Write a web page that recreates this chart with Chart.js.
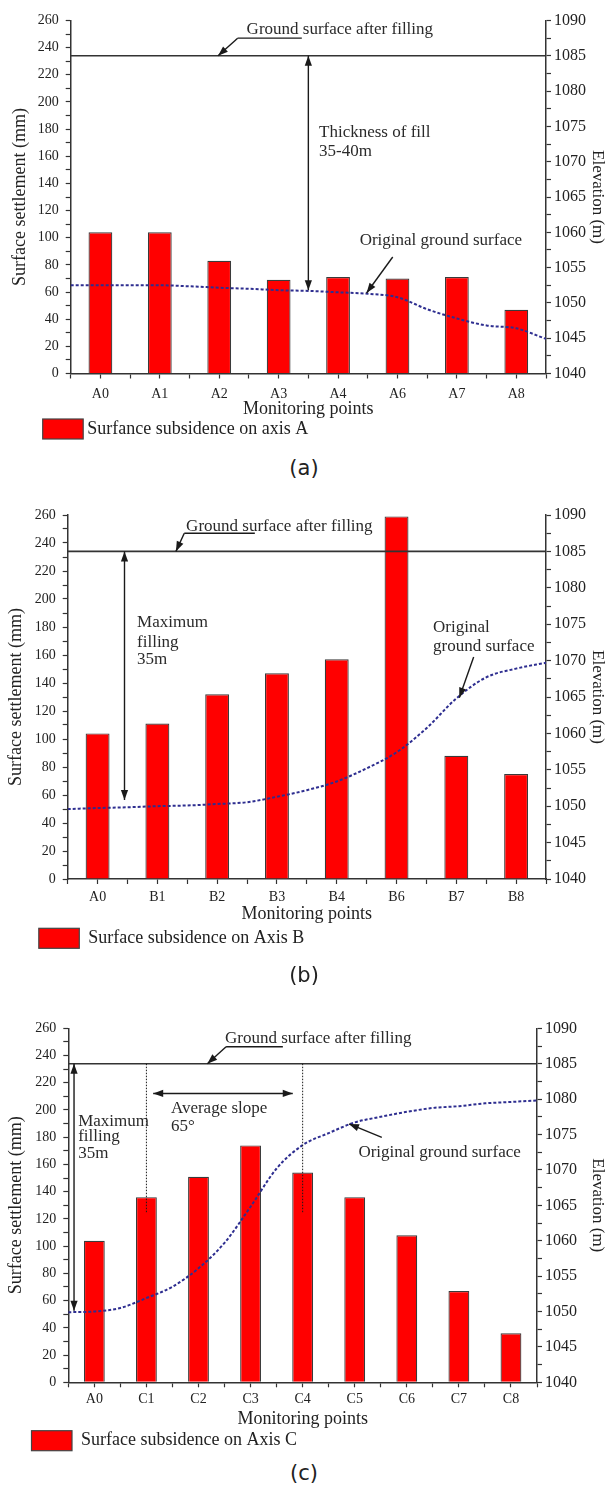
<!DOCTYPE html>
<html>
<head>
<meta charset="utf-8">
<script src="https://cdn.jsdelivr.net/npm/chart.js@4.4.0/dist/chart.umd.min.js"></script>
<style>
  html, body { margin: 0; padding: 0; background: #fff; }
  body { width: 608px; height: 1488px; position: relative; overflow: hidden; }
  .panel { position: absolute; left: 0; width: 608px; }
  .cap { position: absolute; left: 0; width: 608px; text-align: center; font: 21px "DejaVu Sans", sans-serif; color: #222; line-height: 24px; z-index: 2; }
</style>
</head>
<body>
<div class="panel" style="top:0px;height:450px"><canvas id="chartA" width="608" height="450"></canvas></div>
<div class="panel" style="top:480px;height:475px"><canvas id="chartB" width="608" height="475"></canvas></div>
<div class="panel" style="top:985px;height:475px"><canvas id="chartC" width="608" height="475"></canvas></div>
<div class="cap" style="top:456px">(a)</div>
<div class="cap" style="top:963px">(b)</div>
<div class="cap" style="top:1461px">(c)</div>

<script>
const categoriesA = ['A0', 'A1', 'A2', 'A3', 'A4', 'A6', 'A7', 'A8'];
const settlementA = [104, 104, 83, 69, 71, 70, 71, 47];

const categoriesB = ['A0', 'B1', 'B2', 'B3', 'B4', 'B6', 'B7', 'B8'];
const settlementB = [104, 111, 132, 147, 157, 259, 88, 75];

const categoriesC = ['A0', 'C1', 'C2', 'C3', 'C4', 'C5', 'C6', 'C7', 'C8'];
const settlementC = [104, 136, 151, 174, 154, 136, 108, 67, 36];

// original ground surface (elevation, m), read at every half point spacing
const surfacePos8 = [-0.5, 0, 0.5, 1, 1.5, 2, 2.5, 3, 3.5, 4, 4.5, 5, 5.5, 6, 6.5, 7, 7.5];
const surfacePos9 = [-0.5, 0, 0.5, 1, 1.5, 2, 2.5, 3, 3.5, 4, 4.5, 5, 5.5, 6, 6.5, 7, 7.5, 8, 8.5];
const elevationA = [1052.5, 1052.5, 1052.5, 1052.5, 1052.35, 1052.15, 1052.0, 1051.8, 1051.7, 1051.5, 1051.3, 1050.8, 1049.1, 1047.8, 1046.8, 1046.4, 1044.9];
const elevationB = [1049.6, 1049.75, 1049.85, 1050.0, 1050.1, 1050.3, 1050.55, 1051.3, 1052.2, 1053.4, 1055.2, 1057.4, 1060.7, 1064.8, 1067.7, 1068.9, 1069.7];
const elevationC = [1049.9, 1050.0, 1050.5, 1051.9, 1053.5, 1056.1, 1059.7, 1064.8, 1070.2, 1073.5, 1075.2, 1076.7, 1077.5, 1078.2, 1078.75, 1079.0, 1079.4, 1079.6, 1079.8];

// ground surface after filling (m)
const filledSurface = 1085;

const settlementTicks = { min: 0, max: 260, step: 10, labelEvery: 20 };
const elevationTicks = { min: 1040, max: 1090, step: 2.5, labelEvery: 5 };

Chart.defaults.font.family = '"Liberation Serif", "Times New Roman", serif';
Chart.defaults.color = '#222';

const notesA = [
  { t: 'text', x: 4.03, y: 1088.65, s: 'Ground surface after filling', align: 'center' },
  { t: 'line', x1: 2.31, y1: 1087.5, x2: 3.39, y2: 1087.5 },
  { t: 'arrow', x1: 2.31, y1: 1087.5, x2: 1.98, y2: 1085 },
  { t: 'arrow', x1: 3.5, y1: 1085, x2: 3.5, y2: 1051.8, both: true },
  { t: 'text', x: 3.68, y: 1074.2, s: 'Thickness of fill', align: 'left' },
  { t: 'text', x: 3.68, y: 1071.4, s: '35-40m', align: 'left' },
  { t: 'text', x: 5.73, y: 1058.8, s: 'Original ground surface', align: 'center' },
  { t: 'arrow', x1: 4.92, y1: 1056.5, x2: 4.48, y2: 1051.4 }
];

const notesB = [
  { t: 'text', x: 3.04, y: 1088.35, s: 'Ground surface after filling', align: 'center' },
  { t: 'line', x1: 1.45, y1: 1087.5, x2: 2.63, y2: 1087.5 },
  { t: 'arrow', x1: 1.45, y1: 1087.5, x2: 1.31, y2: 1085 },
  { t: 'arrow', x1: 0.45, y1: 1085, x2: 0.45, y2: 1050.85, both: true },
  { t: 'text', x: 0.66, y: 1075.2, s: 'Maximum', align: 'left' },
  { t: 'text', x: 0.66, y: 1072.55, s: 'filling', align: 'left' },
  { t: 'text', x: 0.66, y: 1070.1, s: '35m', align: 'left' },
  { t: 'text', x: 5.61, y: 1074.6, s: 'Original', align: 'left' },
  { t: 'text', x: 5.61, y: 1071.9, s: 'ground surface', align: 'left' },
  { t: 'arrow', x1: 6.29, y1: 1070.5, x2: 6.05, y2: 1064.9 }
];

const notesC = [
  { t: 'text', x: 4.3, y: 1088.5, s: 'Ground surface after filling', align: 'center' },
  { t: 'line', x1: 2.53, y1: 1087.4, x2: 3.62, y2: 1087.4 },
  { t: 'arrow', x1: 2.53, y1: 1087.4, x2: 2.17, y2: 1085 },
  { t: 'dots', x1: 1, y1: 1085, x2: 1, y2: 1063.9 },
  { t: 'dots', x1: 4, y1: 1085, x2: 4, y2: 1063.9 },
  { t: 'arrow', x1: 1.13, y1: 1080.8, x2: 3.81, y2: 1080.8, both: true },
  { t: 'text', x: 1.47, y: 1078.7, s: 'Average slope', align: 'left' },
  { t: 'text', x: 1.47, y: 1076.1, s: '65°', align: 'left' },
  { t: 'arrow', x1: -0.39, y1: 1085, x2: -0.39, y2: 1050.1, both: true },
  { t: 'text', x: -0.31, y: 1076.8, s: 'Maximum', align: 'left' },
  { t: 'text', x: -0.31, y: 1074.7, s: 'filling', align: 'left' },
  { t: 'text', x: -0.31, y: 1072.3, s: '35m', align: 'left' },
  { t: 'text', x: 6.63, y: 1072.4, s: 'Original ground surface', align: 'center' },
  { t: 'arrow', x1: 5.52, y1: 1074.6, x2: 4.89, y2: 1076.5 }
];

function arrowHead(ctx, x0, y0, x1, y1) {
  const a = Math.atan2(y1 - y0, x1 - x0);
  const len = 10, half = 3.6;
  ctx.beginPath();
  ctx.moveTo(x1, y1);
  ctx.lineTo(x1 - len * Math.cos(a) + half * Math.sin(a), y1 - len * Math.sin(a) - half * Math.cos(a));
  ctx.lineTo(x1 - len * Math.cos(a) - half * Math.sin(a), y1 - len * Math.sin(a) + half * Math.cos(a));
  ctx.closePath();
  ctx.fill();
}

function notesPlugin(notes, lay) {
  return {
    id: 'notes',
    afterDraw(chart) {
      const { ctx, chartArea } = chart;
      const xs = chart.scales.x, ys = chart.scales.y2;
      const px = v => xs.getPixelForValue(v);
      const py = v => ys.getPixelForValue(v);
      ctx.save();
      ctx.strokeStyle = '#1a1a1a';
      ctx.fillStyle = '#1a1a1a';
      ctx.lineWidth = 1.4;
      notes.forEach(n => {
        if (n.t === 'text') {
          ctx.fillStyle = '#2a2a2a';
          ctx.font = '17px "Liberation Serif", serif';
          ctx.textAlign = n.align;
          ctx.textBaseline = 'middle';
          ctx.fillText(n.s, px(n.x), py(n.y));
          ctx.fillStyle = '#1a1a1a';
          return;
        }
        const x0 = px(n.x1), y0 = py(n.y1), x1 = px(n.x2), y1 = py(n.y2);
        ctx.beginPath();
        if (n.t === 'dots') {
          ctx.setLineDash([1.5, 1.5]);
          ctx.lineWidth = 1;
        }
        ctx.moveTo(x0, y0);
        ctx.lineTo(x1, y1);
        ctx.stroke();
        ctx.setLineDash([]);
        ctx.lineWidth = 1.4;
        if (n.t === 'arrow') {
          arrowHead(ctx, x0, y0, x1, y1);
          if (n.both) arrowHead(ctx, x1, y1, x0, y0);
        }
      });

      // legend
      const label = chart.data.datasets[2].label;
      const bx = lay.legendX, by = chartArea.bottom + lay.legendDy;
      ctx.fillStyle = '#ff0000';
      ctx.fillRect(bx, by, 40.5, 20);
      ctx.strokeStyle = '#444';
      ctx.lineWidth = 1.2;
      ctx.strokeRect(bx, by, 40.5, 20);
      ctx.fillStyle = '#222';
      ctx.font = '18px "Liberation Serif", serif';
      ctx.textAlign = 'left';
      ctx.textBaseline = 'middle';
      ctx.fillText(label, bx + 40.5 + lay.legendGap, by + 10);
      ctx.restore();
    }
  };
}

function drawPanel(id, categories, settlement, surfacePos, elevation, label, notes, lay) {
  const n = categories.length;
  const axisLine = { display: true, color: '#333', width: 1.5 };
  const tickGrid = { display: true, drawOnChartArea: false, drawTicks: true, tickLength: 5, tickColor: '#333', tickWidth: 1.2 };

  new Chart(document.getElementById(id), {
    type: 'bar',
    data: {
      datasets: [
        {
          type: 'line',
          data: [{ x: -0.5, y: filledSurface }, { x: n - 0.5, y: filledSurface }],
          yAxisID: 'y2',
          borderColor: '#333',
          borderWidth: 1.6,
          pointRadius: 0,
          order: 1
        },
        {
          type: 'line',
          data: surfacePos.map((p, i) => ({ x: p, y: elevation[i] })),
          yAxisID: 'y2',
          borderColor: '#2e2e90',
          borderWidth: 2,
          borderDash: [3, 2],
          pointRadius: 0,
          cubicInterpolationMode: 'monotone',
          order: 1
        },
        {
          type: 'bar',
          label: label,
          data: settlement.map((v, i) => ({ x: i, y: v })),
          yAxisID: 'y',
          backgroundColor: '#ff0000',
          borderColor: '#3a3a3a',
          borderWidth: 1.2,
          // the half-step ticks halve the sample size, so 0.8 gives 40% of a point spacing
          barPercentage: 0.8,
          categoryPercentage: 1,
          order: 2
        }
      ]
    },
    options: {
      responsive: false,
      animation: false,
      layout: { padding: { top: lay.top, bottom: lay.padBottom, left: 0, right: 0 } },
      plugins: { legend: { display: false }, tooltip: { enabled: false } },
      scales: {
        x: {
          type: 'linear',
          min: -0.5,
          max: n - 0.5,
          offset: false,
          border: axisLine,
          grid: { ...tickGrid, offset: false },
          ticks: {
            stepSize: 0.5,
            autoSkip: false,
            maxRotation: 0,
            padding: lay.xTickPad,
            font: { size: 14 },
            callback: v => (Number.isInteger(v) && categories[v] !== undefined ? categories[v] : '')
          },
          title: { display: true, text: 'Monitoring points', font: { size: 18 }, padding: { top: 0, bottom: 0 } },
          afterFit: s => { s.height = lay.xHeight; }
        },
        y: {
          position: 'left',
          min: settlementTicks.min,
          max: settlementTicks.max,
          border: axisLine,
          grid: tickGrid,
          ticks: {
            stepSize: settlementTicks.step,
            autoSkip: false,
            padding: 7,
            font: { size: 14 },
            callback: v => (v % settlementTicks.labelEvery === 0 ? v : '')
          },
          title: { display: true, text: 'Surface settlement (mm)', font: { size: 18 }, padding: { top: lay.yTitlePad, bottom: 0 } },
          afterFit: s => { s.width = lay.left; }
        },
        y2: {
          position: 'right',
          min: elevationTicks.min,
          max: elevationTicks.max,
          border: axisLine,
          grid: tickGrid,
          ticks: {
            stepSize: elevationTicks.step,
            autoSkip: false,
            padding: 3,
            font: { size: 16 },
            callback: v => (v % elevationTicks.labelEvery === 0 ? v : '')
          },
          title: { display: true, text: 'Elevation (m)', font: { size: 17 }, padding: { top: 0, bottom: 0 } },
          afterFit: s => { s.width = 608 - lay.right; }
        }
      }
    },
    plugins: [notesPlugin(notes, lay)]
  });
}

drawPanel('chartA', categoriesA, settlementA, surfacePos8, elevationA, 'Surfance subsidence on axis A', notesA,
  { top: 20.5, left: 70.7, right: 546, xHeight: 46.6, padBottom: 29.9, xTickPad: 7, yTitlePad: 9, legendX: 42.7, legendDy: 45.5, legendGap: 4 });
drawPanel('chartB', categoriesB, settlementB, surfacePos8, elevationB, 'Surface subsidence on Axis B', notesB,
  { top: 35, left: 67.7, right: 546, xHeight: 45.8, padBottom: 30.2, xTickPad: 5, yTitlePad: 5, legendX: 38.8, legendDy: 49.3, legendGap: 9 });
drawPanel('chartC', categoriesC, settlementC, surfacePos9, elevationC, 'Surface subsidence on Axis C', notesC,
  { top: 43.3, left: 68.3, right: 537, xHeight: 48, padBottom: 29.7, xTickPad: 4, yTitlePad: 5, legendX: 31.5, legendDy: 48.4, legendGap: 9 });
</script>
</body>
</html>
